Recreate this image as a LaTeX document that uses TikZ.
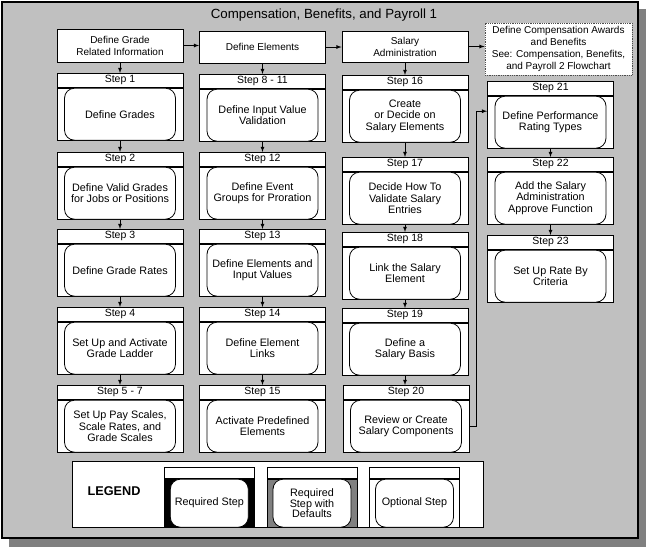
\documentclass[tikz,border=0pt]{standalone}
\usepackage{fontspec}
\setmainfont{Liberation Sans}
\usetikzlibrary{arrows}

\definecolor{bggray}{RGB}{192,192,192}
\definecolor{shadowgray}{RGB}{128,128,128}
\definecolor{defgray}{RGB}{128,128,128}

\tikzset{
	stephead/.style={draw, fill=white, minimum width=126pt, minimum height=14pt, inner sep=0pt, anchor=north, font=\fontsize{10.5}{12}\selectfont},
	stepframe/.style={draw, fill=white, minimum width=126pt, minimum height=52pt, inner sep=0pt, anchor=north},
	stepbody/.style={draw, fill=white, rounded corners=10pt, minimum width=111pt, minimum height=52pt, inner sep=1pt, align=center, font=\fontsize{10.8}{11.3}\selectfont},
	topbox/.style={draw, fill=white, minimum width=126pt, minimum height=32pt, inner sep=1pt, align=center},
	leghead/.style={draw, fill=white, minimum width=90pt, minimum height=11pt, inner sep=0pt, anchor=north},
	legframe/.style={draw, minimum width=90pt, minimum height=48pt, inner sep=0pt, anchor=north},
	legbody/.style={draw, fill=white, rounded corners=10pt, minimum width=78pt, minimum height=48pt, inner sep=1pt, align=center, font=\fontsize{10.8}{10.5}\selectfont},
	arr/.style={-latex, line width=0.8pt},
}

% Schritt: Kopf, Rahmen, abgerundeter Inhalt
\newcommand{\stepbox}[5]{%
	\node[stephead] (#1h) at (#2,#3) {#4};
	\node[stepframe] (#1) at (#1h.south) {};
	\node[stepbody] (#1b) at (#1) {#5};
}
\newcommand{\legitem}[4]{%
	\node[leghead] (#1h) at (#2,467) {};
	\node[legframe, fill=#3] (#1) at (#1h.south) {};
	\node[legbody] (#1b) at (#1) {#4};
}

\begin{document}
\begin{tikzpicture}[x=1pt, y=-1pt, line width=0.8pt, font=\fontsize{10}{12}\selectfont]
		\useasboundingbox (0,0) rectangle (646,547);
		\fill[shadowgray] (9,9) rectangle (646,547);	% Schatten
		\draw[fill=bggray, line width=1.2pt] (2,2) rectangle (638,538);
		
		\node[font=\fontsize{13.3}{15}\selectfont] (title) at (324,15) {Compensation, Benefits, and Payroll 1};
		
		\node[topbox, minimum height=33pt] (grade) at (120,45.5) {Define Grade\\Related Information};
		\node[topbox] (elem) at (262.5,47) {Define Elements};
		\node[topbox, minimum height=31pt] (sal) at (405,46.5) {Salary\\Administration};
		\node[draw=black!70, densely dotted, fill=white, minimum width=147pt, minimum height=52pt, inner sep=1pt, align=center] (comp) at (558.5,49) {Define Compensation Awards\\and Benefits\\See: Compensation, Benefits,\\and Payroll 2 Flowchart};
		
		% Spalte 1
		\stepbox{s1}{120}{73}{Step 1}{Define Grades}
		\stepbox{s2}{120}{152}{Step 2}{Define Valid Grades\\for Jobs or Positions}
		\stepbox{s3}{120}{229}{Step 3}{Define Grade Rates}
		\stepbox{s4}{120}{307}{Step 4}{Set Up and Activate\\Grade Ladder}
		\stepbox{s5}{120}{385}{Step 5 - 7}{Set Up Pay Scales,\\Scale Rates, and\\Grade Scales}
		
		% Spalte 2
		\stepbox{s8}{262.5}{74}{Step 8 - 11}{Define Input Value\\Validation}
		\stepbox{s12}{262.5}{152}{Step 12}{Define Event\\Groups for Proration}
		\stepbox{s13}{262.5}{229}{Step 13}{Define Elements and\\Input Values}
		\stepbox{s14}{262.5}{307}{Step 14}{Define Element\\Links}
		\stepbox{s15}{262.5}{385}{Step 15}{Activate Predefined\\Elements}
		
		% Spalte 3
		\stepbox{s16}{405}{75}{Step 16}{Create\\or Decide on\\Salary Elements}
		\stepbox{s17}{405}{157}{Step 17}{Decide How To\\Validate Salary\\Entries}
		\stepbox{s18}{405}{232}{Step 18}{Link the Salary\\Element}
		\stepbox{s19}{405}{308}{Step 19}{Define a\\Salary Basis}
		\stepbox{s20}{406}{385}{Step 20}{Review or Create\\Salary Components}
		
		% Spalte 4
		\stepbox{s21}{550.5}{81}{Step 21}{Define Performance\\Rating Types}
		\stepbox{s22}{550.5}{157}{Step 22}{Add the Salary\\Administration\\Approve Function}
		\stepbox{s23}{550.5}{235}{Step 23}{Set Up Rate By\\Criteria}
		
		\draw[arr] (grade.east) -- (grade.east -| elem.west);
		\draw[arr] (elem.east) -- (elem.east -| sal.west);
		\draw[arr] (sal.east) -- (sal.east -| comp.west);
		
		\draw[arr] (grade.south) -- (s1h.north);
		\draw[arr] (s1.south) -- (s2h.north);
		\draw[arr] (s2.south) -- (s3h.north);
		\draw[arr] (s3.south) -- (s4h.north);
		\draw[arr] (s4.south) -- (s5h.north);
		
		\draw[arr] (elem.south) -- (s8h.north);
		\draw[arr] (s8.south) -- (s12h.north);
		\draw[arr] (s12.south) -- (s13h.north);
		\draw[arr] (s13.south) -- (s14h.north);
		\draw[arr] (s14.south) -- (s15h.north);
		
		\draw[arr] (sal.south) -- (s16h.north);
		\draw[arr] (s16.south) -- (s17h.north);
		\draw[arr] (s17.south) -- (s18h.north);
		\draw[arr] (s18.south) -- (s19h.north);
		\draw[arr] (s19.south) -- (s20h.north -| s19.south);
		
		\draw[arr] (s21.south) -- (s22h.north);
		\draw[arr] (s22.south) -- (s23h.north);
		
		\draw[arr] (s20.east) -- ++(7,0) |- ([yshift=11pt]s21.west);
		
		% Legende
		\node[draw, fill=white, minimum width=411pt, minimum height=66pt] (legend) at (277.5,494) {};
		\node[font=\bfseries\fontsize{12.7}{14}\selectfont] (legtitle) at (114,491) {LEGEND};
		\legitem{req}{209.3}{black}{Required Step}
		\legitem{def}{312}{defgray}{Required\\Step with\\Defaults}
		\legitem{opt}{414.5}{white}{Optional Step}
	\end{tikzpicture}
\end{document}
